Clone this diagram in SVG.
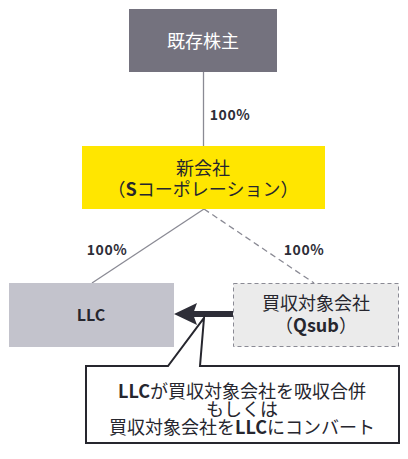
<svg xmlns="http://www.w3.org/2000/svg" width="408" height="459" viewBox="0 0 408 459">
<style>
text{font-family:"Noto Sans CJK JP","Noto Sans",sans-serif;font-size:18px;fill:#26262e;text-anchor:middle}
.lat{font-weight:bold}
.pct{font-size:14px;font-weight:bold;fill:#2e2e38;letter-spacing:0.5px}
.conn{stroke:#8a8a94;stroke-width:1.3;fill:none}
</style>
<rect width="408" height="459" fill="#fff"/>
<g id="connectors">
<line class="conn" x1="203.5" y1="72" x2="203.5" y2="146"/>
<line class="conn" x1="204" y1="209" x2="92" y2="283"/>
<line class="conn" x1="204" y1="209" x2="314" y2="283" stroke-dasharray="6,4"/>
<line x1="233" y1="314" x2="192" y2="314" stroke="#2e2e38" stroke-width="6"/>
<polygon points="174,314 197,303 193,314 197,325" fill="#2e2e38"/>
<text class="pct" x="230" y="120">100%</text>
<text class="pct" x="107" y="255">100%</text>
<text class="pct" x="304" y="255">100%</text>
</g>
<g id="shareholders">
<rect x="129" y="9" width="148" height="63" fill="#74727e"/>
<text x="203" y="48" style="fill:#fff">既存株主</text>
</g>
<g id="newco">
<rect x="82" y="146" width="243" height="63" fill="#ffe600"/>
<text x="203" y="175">新会社</text>
<text x="203" y="196">（<tspan class="lat">S</tspan>コーポレーション）</text>
</g>
<g id="llc">
<rect x="9" y="283" width="165" height="64" fill="#c3c3cc"/>
<text x="91" y="321" class="lat" style="font-size:16px">LLC</text>
</g>
<g id="qsub">
<rect x="233.5" y="283.5" width="165" height="63" fill="#ebebeb" stroke="#8a8a94" stroke-width="1" stroke-dasharray="4,3"/>
<text x="316" y="310">買収対象会社</text>
<text x="316" y="332">（<tspan class="lat">Qsub</tspan>）</text>
</g>
<g id="callout">
<path d="M86,366 H168 L204,318 L200,366 H399 V443 H86 Z" fill="#fff" stroke="#26262e" stroke-width="2" stroke-linejoin="miter"/>
<text x="242" y="398"><tspan class="lat">LLC</tspan>が買収対象会社を吸収合併</text>
<text x="242" y="416">もしくは</text>
<text x="242" y="434">買収対象会社を<tspan class="lat">LLC</tspan>にコンバート</text>
</g>
</svg>
